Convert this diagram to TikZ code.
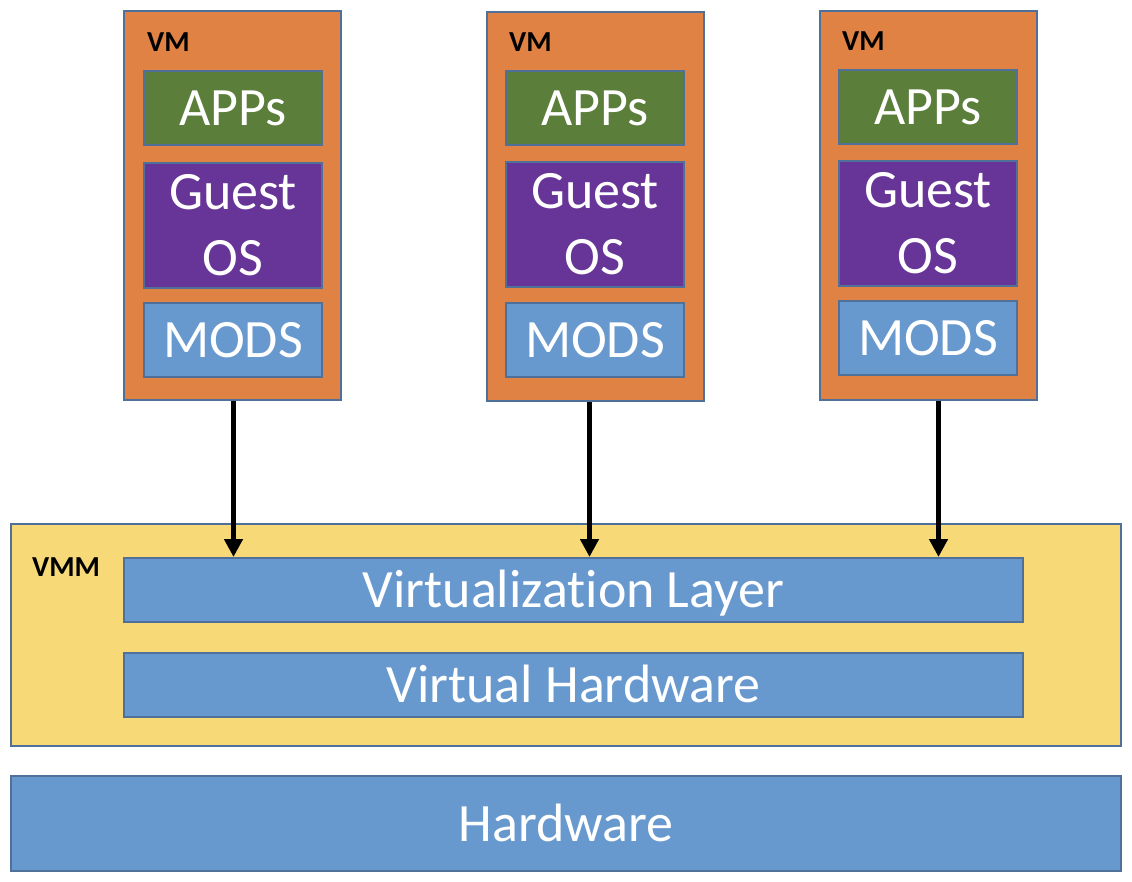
\documentclass[tikz,border=0pt]{standalone}
\usepackage{fontspec}
\setmainfont[Ligatures={NoCommon,NoRequired,NoContextual},RawFeature={-liga;-calt;-dlig;-clig}]{Carlito}
\usetikzlibrary{arrows.meta}
\definecolor{edge}{HTML}{4F7199}
\definecolor{vmorange}{HTML}{E08244}
\definecolor{appgreen}{HTML}{5B7E3B}
\definecolor{ospurple}{HTML}{673597}
\definecolor{layerblue}{HTML}{6899CE}
\definecolor{vmmyellow}{HTML}{F8D978}
\tikzset{
  blk/.style={draw=edge, line width=2pt, inner sep=0pt, anchor=north west, text=white,
    font=\fontsize{54}{66}\selectfont, align=center},
  oneline/.style={text height=35pt, text depth=0pt},
  vmbox/.style={blk, fill=vmorange, minimum width=217pt, minimum height=389pt},
  appbox/.style={blk, oneline, fill=appgreen, minimum width=178pt, minimum height=74pt},
  osbox/.style={blk, fill=ospurple, minimum width=178pt, minimum height=125pt},
  modbox/.style={blk, oneline, fill=layerblue, minimum width=178pt, minimum height=74pt},
  wide/.style={blk, oneline, fill=layerblue, minimum width=899pt, minimum height=64pt},
  tag/.style={anchor=west, inner sep=0pt, font=\fontsize{29}{30}\selectfont\bfseries, text=black},
  arr/.style={line width=4.5pt, -{Triangle[width=18pt,length=18pt]}}
}
\begin{document}
\begin{tikzpicture}[x=1pt,y=-1pt]
\useasboundingbox (0,0) rectangle (1132,882);
% VMM and hardware
\node[blk, fill=vmmyellow, minimum width=1110pt, minimum height=222pt] (vmm) at (10,523) {};
\node[tag] (vmmlbl) at (32,567) {VMM};
\node[wide] (vl) at (123,557) {Virtualizat\kern0pt ion Layer};
\node[wide] (vh) at (123,652) {Virtual Hardware};
\node[blk, oneline, fill=layerblue, minimum width=1110pt, minimum height=95pt] (hw) at (10,775) {Hardware};
% VM 1
\node[vmbox] (vm1) at (123,10) {};
\node[tag] (vm1lbl) at (147,42) {VM};
\node[appbox] (app1) at (143,70) {APPs};
\node[osbox] (os1) at (143,162) {Guest\\OS};
\node[modbox] (mod1) at (143,302) {MODS};
% VM 2
\node[vmbox] (vm2) at (486,11) {};
\node[tag] (vm2lbl) at (509,42) {VM};
\node[appbox] (app2) at (505,70) {APPs};
\node[osbox] (os2) at (505,161) {Guest\\OS};
\node[modbox] (mod2) at (505,302) {MODS};
% VM 3
\node[vmbox] (vm3) at (819,10) {};
\node[tag] (vm3lbl) at (842,41) {VM};
\node[appbox] (app3) at (838,69) {APPs};
\node[osbox] (os3) at (838,160) {Guest\\OS};
\node[modbox] (mod3) at (838,300) {MODS};
% arrows
\draw[arr] ([xshift=1pt]vm1.south) -- ([xshift=1pt]vm1.south |- vl.north);
\draw[arr] ([xshift=-6pt]vm2.south) -- ([xshift=-6pt]vm2.south |- vl.north);
\draw[arr] ([xshift=10pt]vm3.south) -- ([xshift=10pt]vm3.south |- vl.north);
\end{tikzpicture}
\end{document}
